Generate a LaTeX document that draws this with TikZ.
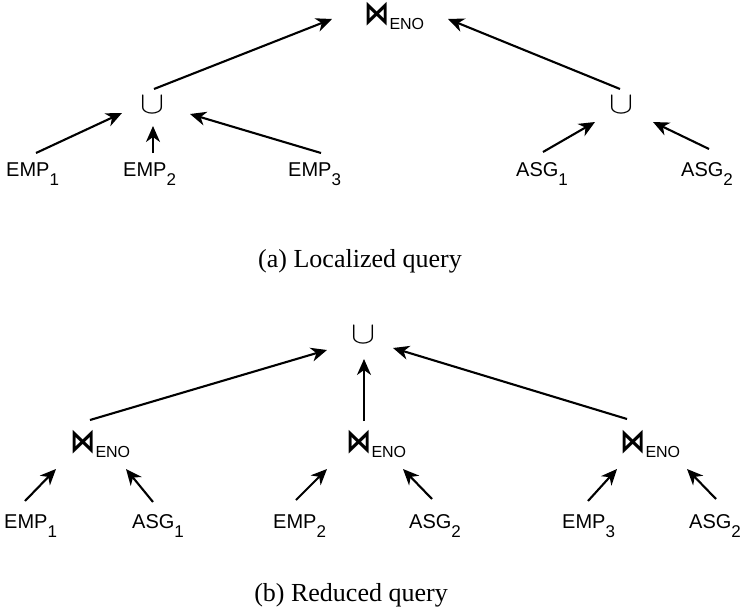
\documentclass[tikz,border=0pt]{standalone}
\usepackage{fontspec}
\setmainfont{Liberation Sans}
\newfontfamily\capfont{Liberation Serif}
\newfontfamily\djv{DejaVu Sans}
\usetikzlibrary{arrows.meta}
\newcommand\relsub[2]{#1\raisebox{-9pt}{\fontsize{17pt}{17pt}\selectfont #2}}
\newcommand\joinsym{{\djv\bfseries\fontsize{22pt}{22pt}\selectfont\scalebox{1.15}[1.5]{⋈}}\raisebox{-5pt}{\fontsize{16pt}{16pt}\selectfont ENO}}
\newcommand\unionsym{\scalebox{1.45}[1.25]{$\cup$}}
\tikzset{
  lbl/.style={anchor=base west, inner sep=0pt, font=\fontsize{20pt}{20pt}\selectfont},
  opnode/.style={inner sep=0pt, font=\fontsize{24pt}{24pt}\selectfont},
  joinnode/.style={anchor=base west, inner sep=0pt},
  capt/.style={anchor=base, inner sep=0pt, font=\capfont\fontsize{26pt}{26pt}\selectfont},
  arr/.style={line width=2.1pt, -{Stealth[length=16pt,width=14pt,inset=5pt]}}
}
\begin{document}
\begin{tikzpicture}[x=1pt,y=-1pt]
\useasboundingbox (0,0) rectangle (743,615);
% (a)
\node[joinnode] (j) at (364,25) {\joinsym};
\node[opnode] (u1) at (153,105) {\unionsym};
\node[opnode] (u2) at (622,105) {\unionsym};
\node[lbl] (e1a) at (6,176) {\relsub{EMP}{1}};
\node[lbl] (e2a) at (123,176) {\relsub{EMP}{2}};
\node[lbl] (e3a) at (288,176) {\relsub{EMP}{3}};
\node[lbl] (s1a) at (516,176) {\relsub{ASG}{1}};
\node[lbl] (s2a) at (681,176) {\relsub{ASG}{2}};
\node[capt] (capa) at (360,267) {(a) Localized query};
\draw[arr] ([shift={(1,-16)}]u1.center) -- ([shift={(-32,-6)}]j.base west);
\draw[arr] ([shift={(-2,-16)}]u2.center) -- ([shift={(84,-6)}]j.base west);
\draw[arr] ([shift={(30,-23)}]e1a.base west) -- ([shift={(-31,8)}]u1.center);
\draw[arr] ([shift={(30,-23)}]e2a.base west) -- ([shift={(0,21)}]u1.center);
\draw[arr] ([shift={(33,-23)}]e3a.base west) -- ([shift={(37,9)}]u1.center);
\draw[arr] ([shift={(27,-24)}]s1a.base west) -- ([shift={(-27,17)}]u2.center);
\draw[arr] ([shift={(28,-27)}]s2a.base west) -- ([shift={(31,17)}]u2.center);
% (b)
\node[opnode] (u3) at (364,335) {\unionsym};
\node[joinnode] (j1) at (70,452) {\joinsym};
\node[joinnode] (j2) at (346,452) {\joinsym};
\node[joinnode] (j3) at (620,452) {\joinsym};
\node[lbl] (e1b) at (4,528) {\relsub{EMP}{1}};
\node[lbl] (s1b) at (132,528) {\relsub{ASG}{1}};
\node[lbl] (e2b) at (273,528) {\relsub{EMP}{2}};
\node[lbl] (s2b) at (409,528) {\relsub{ASG}{2}};
\node[lbl] (e3b) at (562,528) {\relsub{EMP}{3}};
\node[lbl] (s3b) at (689,528) {\relsub{ASG}{2}};
\node[capt] (capb) at (351,601) {(b) Reduced query};
\draw[arr] ([shift={(20,-32)}]j1.base west) -- ([shift={(-37,15)}]u3.center);
\draw[arr] ([shift={(18,-31)}]j2.base west) -- ([shift={(0,24)}]u3.center);
\draw[arr] ([shift={(7,-33)}]j3.base west) -- ([shift={(29,13)}]u3.center);
\draw[arr] ([shift={(21,-27)}]e1b.base west) -- ([shift={(-14,17)}]j1.base west);
\draw[arr] ([shift={(21,-26)}]s1b.base west) -- ([shift={(56,17)}]j1.base west);
\draw[arr] ([shift={(23,-28)}]e2b.base west) -- ([shift={(-19,17)}]j2.base west);
\draw[arr] ([shift={(23,-29)}]s2b.base west) -- ([shift={(57,17)}]j2.base west);
\draw[arr] ([shift={(26,-27)}]e3b.base west) -- ([shift={(-3,17)}]j3.base west);
\draw[arr] ([shift={(27,-29)}]s3b.base west) -- ([shift={(67,17)}]j3.base west);
\end{tikzpicture}
\end{document}
